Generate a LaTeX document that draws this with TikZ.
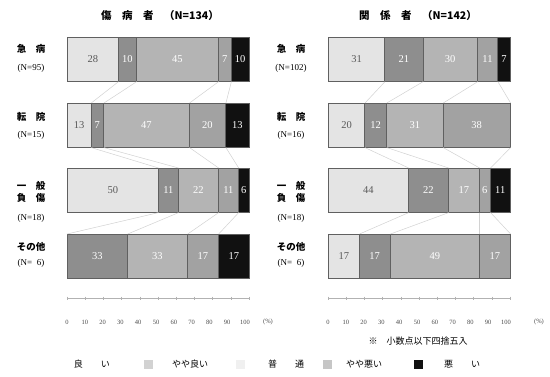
\documentclass[tikz,border=0pt]{standalone}
\usepackage{fontspec}
\setmainfont{Liberation Serif}
\newfontfamily\jp{Noto Sans CJK JP}
\definecolor{cA}{HTML}{E4E4E4}
\definecolor{cB}{HTML}{8E8E8E}
\definecolor{cC}{HTML}{B4B4B4}
\definecolor{cD}{HTML}{A2A2A2}
\definecolor{cE}{HTML}{111111}
\newcommand\sclx{1.82}
\newcommand\stackbar[4]{%
  \gdef\cumx{0}%
  \foreach \v/\s/\t [count=\i] in {#4} {%
    \pgfmathsetmacro\segxa{#2+\cumx*\sclx}%
    \pgfmathsetmacro\segw{\v*\sclx}%
    \node[seg,\s,minimum width=\segw pt,anchor=north west] (#1-\i) at (\segxa,#3) {\t};%
    \pgfmathsetmacro\segnc{\cumx+\v}%
    \xdef\cumx{\segnc}%
  }%
}
\begin{document}
\begin{tikzpicture}[x=1pt,y=-1pt,
  seg/.style={draw=gray!75!black,line width=0.6pt,minimum height=44pt,inner sep=0pt,font=\fontsize{10.5}{10.5}\selectfont},
  sa/.style={fill=cA,text=gray!70!black},
  sb/.style={fill=cB,text=white},
  sc/.style={fill=cC,text=white},
  sd/.style={fill=cD,text=white},
  se/.style={fill=cE,text=white},
  conn/.style={draw=gray!35,line width=0.5pt},
  title/.style={font=\jp\bfseries\fontsize{10.5}{11}\selectfont},
  rowlab/.style={font=\jp\bfseries\fontsize{9.5}{10}\selectfont,align=center},
  nlab/.style={font=\fontsize{9}{9}\selectfont},
  axlab/.style={font=\fontsize{6.5}{7}\selectfont,text=gray!60!black},
  axis/.style={draw=gray!60,line width=0.6pt},
  swatch/.style={minimum width=9pt,minimum height=9pt,inner sep=0pt},
  leg/.style={font=\jp\fontsize{9}{9}\selectfont}]
\useasboundingbox (0,0) rectangle (550,376);
\fill[white] (0,0) rectangle (550,376);

% titles
\node[title] (t1) at (160,16) {傷　病　者　（N=134）};
\node[title] (t2) at (418,16) {関　係　者　（N=142）};

% left bars
\stackbar{L1}{67}{37}{28/sa/28,10/sb/10,45/sc/45,7/sd/7,10/se/10}
\stackbar{L2}{67}{103}{13/sa/13,7/sb/7,47/sc/47,20/sd/20,13/se/13}
\stackbar{L3}{67}{168}{50/sa/50,11/sb/11,22/sc/22,11/sd/11,6/se/6}
\stackbar{L4}{67}{234}{33/sb/33,33/sc/33,17/sd/17,17/se/17}

% right bars
\stackbar{R1}{328}{37}{31/sa/31,21/sb/21,30/sc/30,11/sd/11,7/se/7}
\stackbar{R2}{328}{103}{20/sa/20,12/sb/12,31/sc/31,37/sd/38}
\stackbar{R3}{328}{168}{44/sa/44,22/sb/22,17/sc/17,6/sd/6,11/se/11}
\stackbar{R4}{328}{234}{17/sa/17,17/sb/17,49/sc/49,17/sd/17}

% connectors left
\foreach \i in {1,...,4}{
  \draw[conn] (L1-\i.south east) -- (L2-\i.north east);
  \draw[conn] (L2-\i.south east) -- (L3-\i.north east);
}
\draw[conn] (L3-1.south east) -- (L4-1.north west);
\draw[conn] (L3-2.south east) -- (L4-1.north east);
\draw[conn] (L3-3.south east) -- (L4-2.north east);
\draw[conn] (L3-4.south east) -- (L4-3.north east);

% connectors right
\foreach \i in {1,...,4}{
  \draw[conn] (R1-\i.south east) -- (R2-\i.north east);
  \draw[conn] (R2-\i.south east) -- (R3-\i.north east);
  \draw[conn] (R3-\i.south east) -- (R4-\i.north east);
}

% row labels left
\node[rowlab] (la1) at (31,49) {急　病};
\node[nlab] (na1) at (31,68) {(N=95)};
\node[rowlab] (la2) at (31,117) {転　院};
\node[nlab] (na2) at (31,135) {(N=15)};
\node[rowlab] (la3) at (31,192) {一　般\\[2pt]負　傷};
\node[nlab] (na3) at (31,218) {(N=18)};
\node[rowlab] (la4) at (31,247) {その他};
\node[nlab] (na4) at (31,263) {(N=\ \ 6)};

% row labels right
\node[rowlab] (ra1) at (291,49) {急　病};
\node[nlab] (nb1) at (291,68) {(N=102)};
\node[rowlab] (ra2) at (291,117) {転　院};
\node[nlab] (nb2) at (291,135) {(N=16)};
\node[rowlab] (ra3) at (291,192) {一　般\\[2pt]負　傷};
\node[nlab] (nb3) at (291,218) {(N=18)};
\node[rowlab] (ra4) at (291,247) {その他};
\node[nlab] (nb4) at (291,263) {(N=\ \ 6)};

% axes
\foreach \x/\nm in {67/A, 328/B}{
  \draw[axis] (\x,298) -- ++(182,0);
  \foreach \k in {0,...,10}{
    \draw[axis] (\x+18.2*\k,296.5) -- ++(0,3);
    \pgfmathtruncatemacro\lab{10*\k}
    \node[axlab] (\nm\k) at (\x+17.8*\k,322) {\lab};
  }
}
\node[axlab] (pA) at (268,322) {(\%)};
\node[axlab] (pB) at (539,322) {(\%)};

\node[leg] (note) at (418,341) {※　小数点以下四捨五入};

% legend
\node[leg] (lg1) at (92,364) {良　　い};
\node[swatch,fill=gray!35] (sw2) at (148,364) {};
\node[leg] (lg2) at (190,364) {やや良い};
\node[swatch,fill=gray!12] (sw3) at (240,364) {};
\node[leg] (lg3) at (286,364) {普　　通};
\node[swatch,fill=gray!45] (sw4) at (327,364) {};
\node[leg] (lg4) at (364,364) {やや悪い};
\node[swatch,fill=cE] (sw5) at (418,364) {};
\node[leg] (lg5) at (462,364) {悪　　い};
\end{tikzpicture}
\end{document}
